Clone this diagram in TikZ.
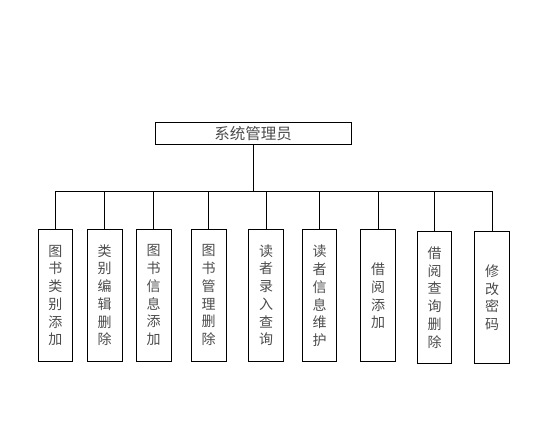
\documentclass[tikz,border=0pt]{standalone}
\usepackage{fontspec}
\newfontfamily\cjk{Noto Sans CJK SC}
\usepackage{tikz}
\usetikzlibrary{positioning}

\begin{document}
\begin{tikzpicture}[x=1pt,y=-1pt,line width=0.8pt,
  role/.style={draw,minimum width=196pt,minimum height=22pt,inner sep=0pt,
    font=\cjk\fontsize{15.5}{15.5}\selectfont,text=black!70},
  func/.style={draw,minimum width=34.5pt,minimum height=132pt,inner sep=0pt,
    align=center,font=\cjk\fontsize{14}{17.7}\selectfont,text=black!70}]
\useasboundingbox (0,0) rectangle (550,425);
% Administrator
\node[role] (admin) at (253,133.3) {系统管理员};
% Functions
\node[func] (f1) at (55.5,295.5) {图\\书\\类\\别\\添\\加};
\node[func] (f2) at (104.7,295.2) {类\\别\\编\\辑\\删\\除};
\node[func] (f3) at (153.7,295.2) {图\\书\\信\\息\\添\\加};
\node[func] (f4) at (208.7,295.2) {图\\书\\管\\理\\删\\除};
\node[func] (f5) at (266,295.2) {读\\者\\录\\入\\查\\询};
\node[func] (f6) at (319.5,295.9) {读\\者\\信\\息\\维\\护};
\node[func] (f7) at (378,295.9) {借\\阅\\添\\加};
\node[func] (f8) at (434.5,297.5) {借\\阅\\查\\询\\删\\除};
\node[func] (f9) at (492,297.5) {修\\改\\密\\码};
% Connectors
\coordinate (bus) at (253,191);
\draw (admin.south) -- (bus);
\draw (f1.north |- bus) -- (f9.north |- bus);
\foreach \f in {f1,f2,f3,f4,f5,f6,f7,f8,f9}
  \draw (\f.north) -- (\f.north |- bus);
\end{tikzpicture}
\end{document}
